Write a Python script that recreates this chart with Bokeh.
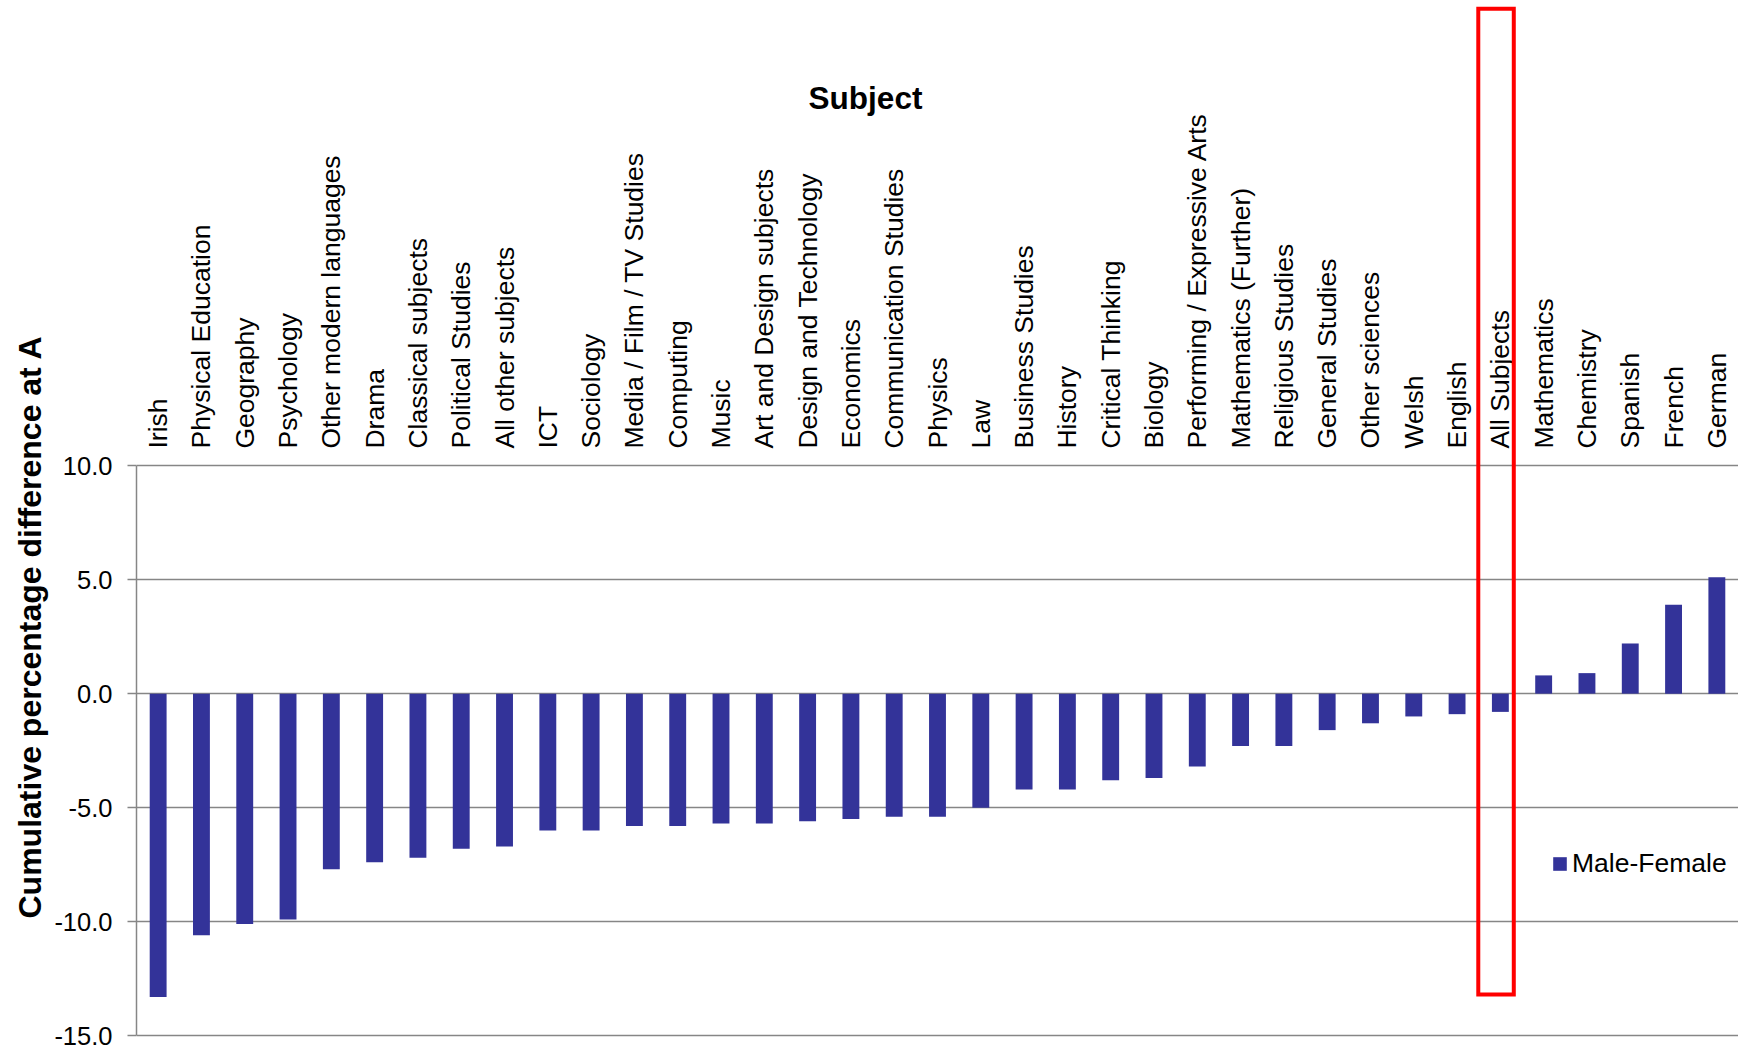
import math
from bokeh.plotting import figure
from bokeh.models import (ColumnDataSource, FixedTicker, Range1d, FactorRange, Legend,
                          LegendItem, Label, Title, NumeralTickFormatter)
from bokeh.core.properties import value
from bokeh.embed import file_html
from bokeh.resources import INLINE

# ---------------- data ----------------
subjects = [
    "Irish", "Physical Education", "Geography", "Psychology", "Other modern languages",
    "Drama", "Classical subjects", "Political Studies", "All other subjects", "ICT",
    "Sociology", "Media / Film / TV Studies", "Computing", "Music", "Art and Design subjects",
    "Design and Technology", "Economics", "Communication Studies", "Physics", "Law",
    "Business Studies", "History", "Critical Thinking", "Biology", "Performing / Expressive Arts",
    "Mathematics (Further)", "Religious Studies", "General Studies", "Other sciences", "Welsh",
    "English", "All Subjects", "Mathematics", "Chemistry", "Spanish", "French", "German",
]
male_female = [
    -13.3, -10.6, -10.1, -9.9, -7.7,
    -7.4, -7.2, -6.8, -6.7, -6.0,
    -6.0, -5.8, -5.8, -5.7, -5.7,
    -5.6, -5.5, -5.4, -5.4, -5.0,
    -4.2, -4.2, -3.8, -3.7, -3.2,
    -2.3, -2.3, -1.6, -1.3, -1.0,
    -0.9, -0.8, 0.8, 0.9, 2.2, 3.9, 5.1,
]
y_ticks = [-15, -10, -5, 0, 5, 10]
highlight = "All Subjects"
series_name = "Male-Female"
x_title = "Subject"
y_title = "Cumulative percentage difference at A"

# ---------------- style ----------------
FONT = "Liberation Sans"
BAR = "#333399"
GRID = "#868686"
Y_MIN, Y_MAX = y_ticks[0], y_ticks[-1]
Y_LO, Y_HI = -15.3, 30.4

p = figure(width=1738, height=1049,
           x_range=FactorRange(*subjects), y_range=Range1d(Y_LO, Y_HI),
           output_backend="svg", toolbar_location=None,
           x_axis_location=None, y_axis_location="left",
           min_border_left=136, min_border_right=0,
           min_border_top=0, min_border_bottom=7)
p.outline_line_color = None
p.background_fill_color = "white"
p.border_fill_color = "white"

src = ColumnDataSource(dict(subject=subjects, diff=male_female))

# y axis
ax = p.yaxis[0]
ax.ticker = FixedTicker(ticks=y_ticks)
ax.bounds = (Y_MIN, Y_MAX)
ax.formatter = NumeralTickFormatter(format="0.0")
ax.axis_line_color = GRID
ax.axis_line_width = 1.5
ax.major_tick_line_color = GRID
ax.major_tick_line_width = 1.5
ax.major_tick_out = 9
ax.major_tick_in = 0
ax.minor_tick_out = 0
ax.minor_tick_in = 0
ax.major_label_text_font = FONT
ax.major_label_text_font_size = "25.5px"
ax.major_label_text_color = "black"
ax.major_label_standoff = 15

# y axis title, placed in the left panel
p.add_layout(Title(text=y_title, align="left", offset=124, text_font=FONT,
                   text_font_size="32px", text_font_style="bold", text_color="black",
                   standoff=7), "left")

# grid
p.xgrid.visible = False
p.ygrid.ticker = FixedTicker(ticks=y_ticks)
p.ygrid.bounds = (Y_MIN - 0.01, Y_MAX + 0.01)
p.ygrid.grid_line_color = GRID
p.ygrid.grid_line_width = 1.5

# bars
bars = p.vbar(x="subject", top="diff", bottom=0, width=0.39, source=src,
              fill_color=BAR, line_color=None)

# category labels (top, vertical)
p.text(x="subject", y=Y_MAX + 0.75, text="subject", source=src,
       angle=math.pi / 2, text_align="left", text_baseline="middle",
       text_font=value(FONT), text_font_size=value("26.5px"), text_color="black")

# highlight box around "All Subjects"
hi = subjects.index(highlight) + 0.5
p.quad(left=[hi - 0.51], right=[hi + 0.31], top=[Y_HI - 0.36], bottom=[min(male_female) + 0.1],
       fill_color=None, line_color="#FF0000", line_width=4, line_join="miter")

# x title
p.add_layout(Label(x=729, y=945, x_units="screen", y_units="screen", text=x_title,
                   text_align="center", text_baseline="middle",
                   text_font=FONT, text_font_size="31.5px", text_font_style="bold",
                   text_color="black"))

# legend
legend = Legend(items=[LegendItem(label=series_name, renderers=[bars])],
                location=(1415, 163), border_line_color=None, background_fill_alpha=0,
                padding=0, margin=0, spacing=0, glyph_width=17, glyph_height=17,
                label_standoff=4, label_text_font=FONT, label_text_font_size="26.5px",
                label_text_color="black")
p.add_layout(legend)

open("out.html", "w").write(file_html(p, INLINE))
